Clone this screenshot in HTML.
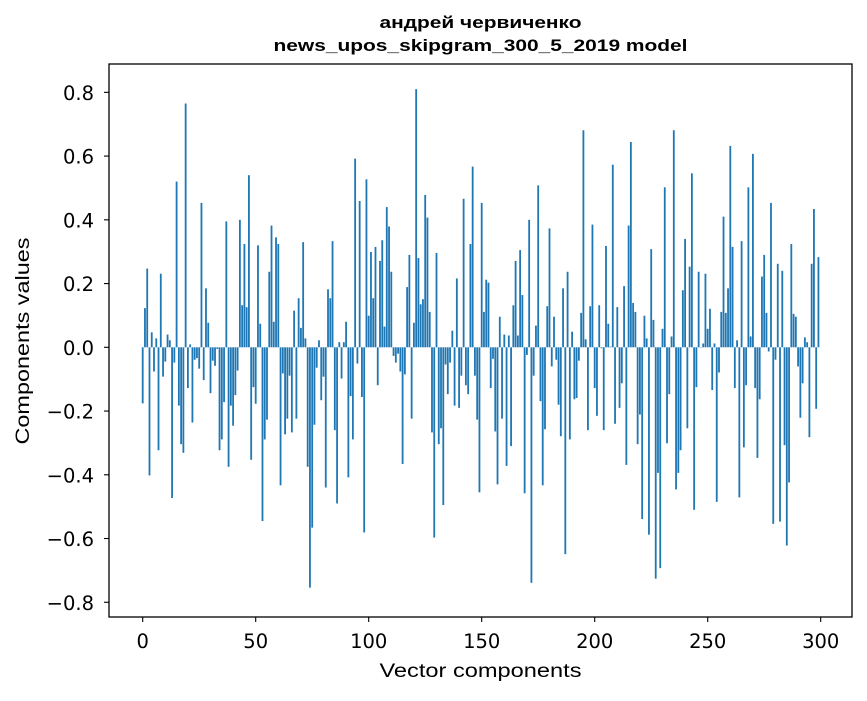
<!DOCTYPE html>
<html><head><meta charset="utf-8"><style>
html,body{margin:0;padding:0;background:#fff;}
svg text{font-family:"Liberation Sans","DejaVu Sans",sans-serif;fill:#000;}
svg text.dj{font-family:"DejaVu Sans","Liberation Sans",sans-serif;}
</style></head><body>
<svg id="chart" width="867" height="696" xmlns="http://www.w3.org/2000/svg">
<rect width="867" height="696" fill="#fff"/>
<text x="480.5" y="28" text-anchor="middle" font-size="17" font-weight="bold" textLength="202" lengthAdjust="spacingAndGlyphs">андрей червиченко</text>
<text x="480.5" y="51" text-anchor="middle" font-size="17" font-weight="bold" textLength="414" lengthAdjust="spacingAndGlyphs">news_upos_skipgram_300_5_2019 model</text>
<g id="bars"></g>
<g id="axes"></g>
<text x="480.5" y="677" text-anchor="middle" font-size="19.5" textLength="202" lengthAdjust="spacingAndGlyphs">Vector components</text>
<text transform="translate(29,341) rotate(-90)" text-anchor="middle" font-size="19.5" textLength="207" lengthAdjust="spacingAndGlyphs">Components values</text>
</svg>
<script>
const values = [
-0.176,0.123,0.247,-0.402,0.047,-0.076,0.028,-0.323,0.231,-0.092,
-0.045,0.04,0.022,-0.473,-0.048,0.52,-0.183,-0.304,-0.331,0.765,
-0.128,0.009,-0.236,-0.039,-0.034,-0.067,0.453,-0.103,0.185,0.077,
-0.144,-0.042,-0.058,-0.005,-0.323,-0.289,-0.172,0.395,-0.375,-0.183,
-0.246,-0.15,-0.073,0.40,0.132,0.324,0.126,0.54,-0.353,-0.125,
-0.177,0.32,0.074,-0.545,-0.289,-0.227,0.237,0.382,0.08,0.345,
0.324,-0.433,-0.082,-0.273,-0.224,-0.089,-0.267,0.115,-0.224,0.154,
0.061,0.33,0.028,-0.375,-0.754,-0.566,-0.243,-0.064,0.022,-0.166,
-0.092,-0.44,0.182,0.154,0.333,-0.26,-0.49,0.016,-0.098,0.016,
0.08,-0.408,-0.153,-0.289,0.592,-0.051,0.459,-0.156,-0.581,0.527,
0.099,0.299,0.154,0.315,-0.119,0.271,0.336,0.065,0.44,0.379,
0.237,-0.027,-0.048,-0.02,-0.076,-0.366,-0.085,0.189,0.29,-0.224,0.077,
0.81,
0.28,0.135,0.151,0.478,0.407,0.111,-0.267,-0.597,0.296,-0.304,
-0.254,-0.495,-0.054,-0.147,-0.048,0.052,-0.183,0.216,-0.19,-0.089,
0.466,-0.119,-0.147,0.324,0.567,-0.089,-0.227,-0.455,
0.453,0.111,0.212,0.203,-0.128,-0.036,-0.264,-0.43,0.096,-0.224,
0.04,-0.372,0.037,-0.31,0.132,0.271,0.037,0.305,0.164,-0.458,
-0.024,0.40,-0.739,-0.089,0.068,0.508,-0.169,-0.433,-0.257,0.129,
0.373,-0.06,0.096,-0.039,-0.18,-0.279,0.185,-0.649,0.237,-0.289,
0.049,-0.163,-0.159,-0.042,0.108,0.681,0.025,-0.26,0.129,0.385,
-0.128,-0.215,0.132,-0.003,-0.26,0.318,0.074,0.002,0.573,-0.24,
0.126,-0.19,-0.113,0.192,-0.369,0.382,0.644,0.139,0.111,-0.304,
-0.211,-0.539,0.099,0.028,-0.588,0.308,0.086,-0.726,-0.394,-0.693,
0.058,0.502,-0.301,-0.147,0.034,0.681,-0.446,-0.394,-0.323,0.179,
0.34,-0.254,0.253,0.546,-0.51,-0.125,0.237,0.0,0.012,
0.231,0.058,0.121,-0.134,0.012,-0.485,-0.079,0.111,0.41,0.108,
0.185,0.632,0.315,-0.128,0.022,-0.471,0.333,-0.314,-0.119,0.502,
0.034,0.607,-0.128,-0.347,-0.163,0.222,0.29,0.108,-0.013,0.453,
-0.554,-0.039,0.262,-0.547,0.24,-0.307,-0.622,-0.424,0.324,0.105,
0.096,-0.06,-0.221,-0.113,0.031,0.016,-0.282,0.262,0.434,-0.193,0.283
];
const xTicks = [0,50,100,150,200,250,300];
const yTicks = [-0.8,-0.6,-0.4,-0.2,0.0,0.2,0.4,0.6,0.8];

const NS="http://www.w3.org/2000/svg";
const L=109,T=64,R=852,B=617;
function xs(v){return 142.7+(v)*2.26;}
function ys(v){return 347.3-v*318.7;}
function mk(tag,attrs,parent){const e=document.createElementNS(NS,tag);for(const k in attrs)e.setAttribute(k,attrs[k]);parent.appendChild(e);return e;}

const bars=document.getElementById('bars');
values.forEach((v,i)=>{
  const x=xs(i-0.4), w=xs(i+0.4)-x;
  const y0=ys(0), y1=ys(v);
  const r=mk('rect',{x:x,y:Math.min(y0,y1),width:w,height:Math.max(Math.abs(y1-y0),0.3),fill:'#1f77b4'},bars);
  
  
});

const axes=document.getElementById('axes');
const frame=mk('rect',{x:L,y:T,width:R-L,height:B-T,fill:'none',stroke:'#000','stroke-width':1.3},axes);


xTicks.forEach(t=>{
  const x=xs(t);
  const tk=mk('line',{x1:x,x2:x,y1:B,y2:B+5,stroke:'#000','stroke-width':1.1},axes);
  
  
  const lb=mk('text',{x:x,y:B+31,'text-anchor':'middle','font-size':19.5,'class':'dj'},axes);
  lb.textContent=String(t);
  
  
});
yTicks.forEach(t=>{
  const y=ys(t);
  const tk=mk('line',{x1:L-5,x2:L,y1:y,y2:y,stroke:'#000','stroke-width':1.1},axes);
  
  
  const lb=mk('text',{x:L-15,y:y+7.5,'text-anchor':'end','font-size':19.5,'class':'dj'},axes);
  lb.textContent=(t<0?'\u2212':'')+Math.abs(t).toFixed(1);
  
  
});
</script>
</body></html>
